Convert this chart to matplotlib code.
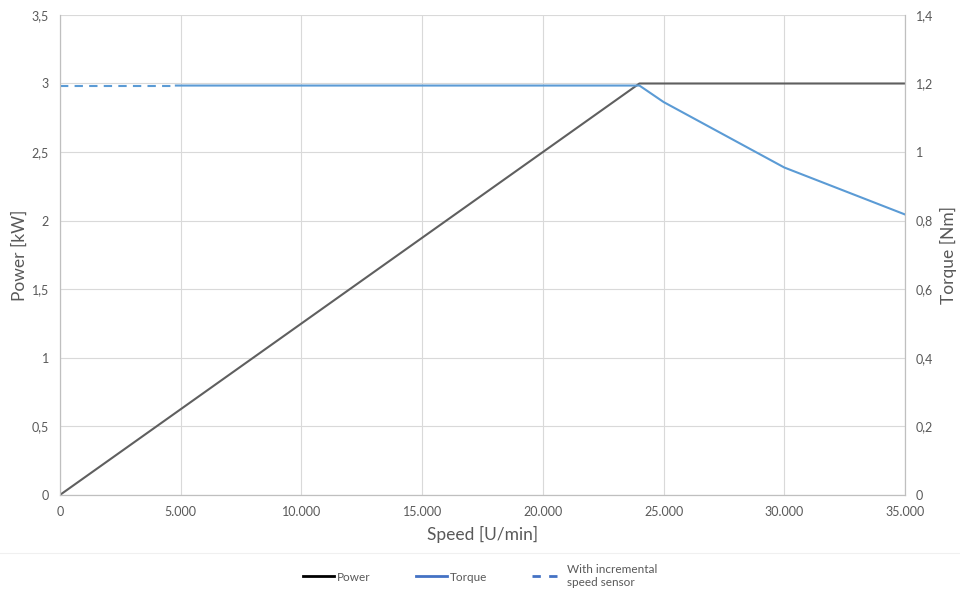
"""Power and torque over speed, drawn like the datasheet chart."""

import matplotlib
import numpy as np

matplotlib.use("Agg")
import matplotlib.pyplot as plt  # noqa: E402
from matplotlib.ticker import FuncFormatter  # noqa: E402

speed = [0, 24000, 35000]
power = [0, 3.0, 3.0]

torque_speed = [4800, 24000, 25000, 30000, 35000]
torque = [1.194, 1.194, 1.146, 0.955, 0.818]

sensor_speed = [0, 4800]
sensor_torque = [1.194, 1.194]

grey = "#595959"
blue = "#5b9bd5"
grid = "#d9d9d9"
plt.rcParams["font.family"] = ["Lato", "DejaVu Sans"]


def comma(value, _pos):
    text = f"{value:g}"
    return text.replace(".", ",")


def thousands(value, _pos):
    return f"{int(value):,}".replace(",", ".")


fig = plt.figure(figsize=(9.6, 5.97), dpi=100)
ax = fig.add_axes([0.0625, 0.171, 0.8802, 0.804])
ax2 = ax.twinx()

ax.plot(speed, power, color="#5f5f5f", linewidth=1.5, solid_capstyle="butt")
ax2.plot(torque_speed, torque, color=blue, linewidth=1.5)
ax2.plot(sensor_speed, sensor_torque, color=blue, linewidth=1.5, linestyle=(0, (4, 3)))

ax.set_xlim(0, 35000)
ax.set_ylim(0, 3.5)
ax2.set_ylim(0, 1.4)
ax.set_xticks(np.arange(0, 35001, 5000))
ax.set_yticks(np.arange(0, 3.51, 0.5))
ax2.set_yticks(np.arange(0, 1.41, 0.2))
ax.xaxis.set_major_formatter(FuncFormatter(thousands))
ax.yaxis.set_major_formatter(FuncFormatter(comma))
ax2.yaxis.set_major_formatter(FuncFormatter(lambda v, p: comma(round(v, 1), p)))

ax.grid(True, color=grid, linewidth=0.8)
ax.set_axisbelow(True)
for axis in (ax, ax2):
    axis.tick_params(length=0, labelsize=9, labelcolor=grey, pad=8)
    axis.spines["top"].set_visible(False)
    for side in ("left", "right", "bottom"):
        axis.spines[side].set_color("#bfbfbf")
        axis.spines[side].set_linewidth(0.8)

ax.set_xlabel("Speed [U/min]", fontsize=12.5, color=grey, labelpad=6)
ax.set_ylabel("Power [kW]", fontsize=12.5, color=grey, labelpad=3)
ax2.set_ylabel("Torque [Nm]", fontsize=12.5, color=grey, labelpad=5)

handles = [
    plt.Line2D([], [], color="black", linewidth=2),
    plt.Line2D([], [], color="#4472c4", linewidth=2),
    plt.Line2D([], [], color="#4472c4", linewidth=2, linestyle=(0, (3, 3))),
]
labels = ["Power", "Torque", "With incremental\nspeed sensor"]
fig.legend(
    handles,
    labels,
    loc="center",
    bbox_to_anchor=(0.5, 0.035),
    ncol=3,
    frameon=False,
    fontsize=8.5,
    labelcolor=grey,
    handlelength=2.6,
    handletextpad=0.3,
    columnspacing=3.8,
)
fig.add_artist(plt.Line2D([0, 1], [0.074, 0.074], color="#f0f0f0", linewidth=0.8))

fig.savefig("out.png", dpi=100)
